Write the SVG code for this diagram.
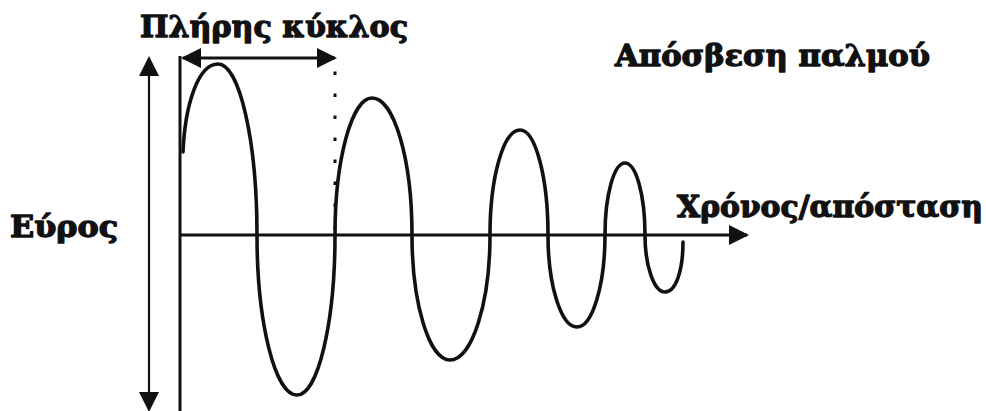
<svg xmlns="http://www.w3.org/2000/svg" width="986" height="411" viewBox="0 0 986 411">
  <style>
    .lbl { font-family: "DejaVu Serif", "Liberation Serif", serif; font-weight: bold; font-size: 30px; fill: #111; stroke: #111; stroke-width: 1.3; stroke-linejoin: round; }
    .ax { stroke: #111; fill: none; stroke-width: 3; }
    .amp { stroke: #111; fill: none; stroke-width: 2.2; }
    .wave { stroke: #111; fill: none; stroke-width: 3.6; stroke-linejoin: round; stroke-linecap: round; }
    .dots { stroke: #111; fill: none; stroke-width: 3; stroke-dasharray: 3.5 18.5; }
  </style>
  <defs>
    <marker id="headL" viewBox="0 0 10 10" refX="9" refY="5" markerUnits="userSpaceOnUse" markerWidth="25" markerHeight="20" orient="auto-start-reverse">
      <path d="M0,0 L10,5 L0,10 z" fill="#111"/>
    </marker>
    <marker id="headS" viewBox="0 0 10 10" refX="9" refY="5" markerUnits="userSpaceOnUse" markerWidth="20" markerHeight="23" orient="auto-start-reverse">
      <path d="M0,0 L10,5 L0,10 z" fill="#111"/>
    </marker>
  </defs>
  <rect width="986" height="411" fill="#fff"/>

  <g id="connectors">
    <line class="amp" x1="149" y1="58" x2="149" y2="410" marker-start="url(#headS)" marker-end="url(#headS)"/>
    <line class="ax" x1="180" y1="56" x2="180" y2="411"/>
    <line class="ax" x1="180" y1="235" x2="747" y2="235" marker-end="url(#headL)"/>
    <line class="ax" x1="183" y1="58" x2="335" y2="58" marker-start="url(#headL)" marker-end="url(#headL)"/>
    <line class="dots" x1="335" y1="71.5" x2="335" y2="234"/>
  </g>

  <g id="wave">
    <path class="wave" d="M183,152 C185,105 198,64 218,64 C239.5,64 257,140.5 257,235 C257,322.5 275,395 297,395 C318,395 335,322.5 335,235 C335,159 352,98 372,98 C394,98 412,159 412,235 C412,303 429,360 450,360 C472,360 490,303 490,235 C490,177 503.5,130 520,130 C535.4,130 548,177 548,235 C548,285 561,327 577,327 C592.4,327 605,285 605,235 C605,195 614,163 625,163 C636,163 645,195 645,235 C645,266 654,292 665,292 C676,292 683,270 683,242"/>
  </g>

  <g id="label-cycle">
    <text class="lbl" x="140" y="37" textLength="268" lengthAdjust="spacingAndGlyphs">Πλήρης κύκλος</text>
  </g>
  <g id="label-damping">
    <text class="lbl" x="615" y="66" textLength="315" lengthAdjust="spacingAndGlyphs">Απόσβεση παλμού</text>
  </g>
  <g id="label-time">
    <text class="lbl" x="677" y="217" textLength="306" lengthAdjust="spacingAndGlyphs">Χρόνος/απόσταση</text>
  </g>
  <g id="label-amplitude">
    <text class="lbl" x="10" y="237" textLength="108" lengthAdjust="spacingAndGlyphs">Εύρος</text>
  </g>
</svg>
